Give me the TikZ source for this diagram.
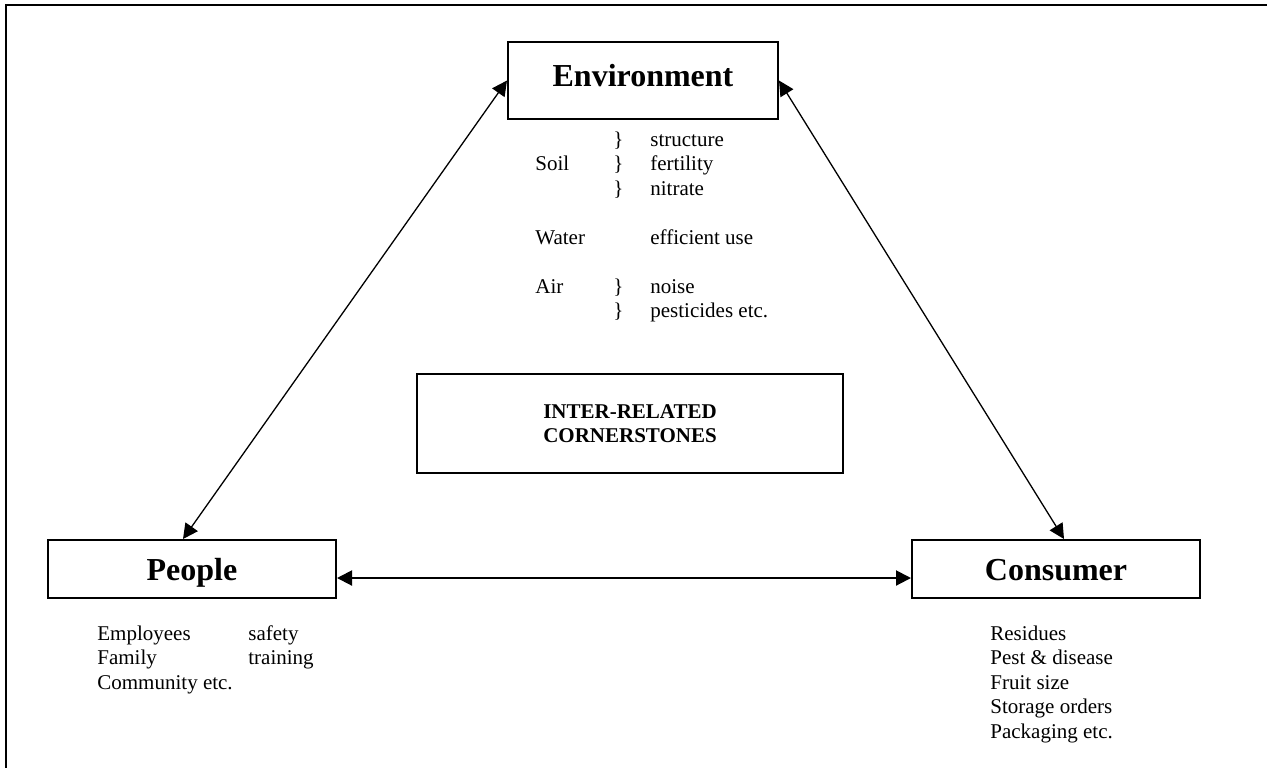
\documentclass[tikz,border=0pt]{standalone}
\usepackage{fontspec}
\setmainfont{Liberation Serif}
\usetikzlibrary{arrows.meta}

\begin{document}
\begin{tikzpicture}[x=0.5pt, y=-0.5pt,
    cornerbox/.style={draw, line width=1pt, inner sep=0pt, text height=11pt,
        font=\fontsize{16}{19}\selectfont\bfseries},
    listtext/.style={anchor=base west, inner sep=0pt, font=\fontsize{10.5}{12.25}\selectfont},
    link/.style={line width=0.65pt,
        {Triangle[length=7.5pt,width=7.5pt]}-{Triangle[length=7.5pt,width=7.5pt]}}]

\useasboundingbox (0,0) rectangle (1267,767);
\draw[line width=1pt] (6,780) |- (1280,5);

\node[cornerbox, minimum width=135pt, minimum height=38.5pt, text depth=5pt] (env) at (643,80.5) {Environment};
\node[cornerbox, minimum width=144pt, minimum height=29pt, text depth=0pt] (people) at (192,569) {People};
\node[cornerbox, minimum width=144pt, minimum height=29pt, text depth=0pt] (consumer) at (1056,569) {Consumer};
\node[draw, line width=0.8pt, minimum width=213pt, minimum height=49.5pt, align=center,
    font=\fontsize{10.5}{12.25}\selectfont\bfseries] (inter) at (630,423.5) {INTER-RELATED\\CORNERSTONES};

\foreach \rowno/\lab/\brace/\entry in {0//\}/structure, 1/Soil/\}/fertility, 2//\}/nitrate,
        4/Water//efficient use, 6/Air/\}/noise, 7//\}/pesticides etc.} {
    \pgfmathsetmacro\basey{146+24.5*\rowno}
    \node[listtext] (envlab\rowno) at (535,\basey) {\lab};
    \node[listtext] (envbrace\rowno) at (613,\basey) {\brace};
    \node[listtext] (enventry\rowno) at (650,\basey) {\entry};
}

\foreach \entry/\topic [count=\i from 0] in {Employees/safety, Family/training, Community etc./} {
    \pgfmathsetmacro\basey{640+24.5*\i}
    \node[listtext] (peopleentry\i) at (97,\basey) {\entry};
    \node[listtext] (peopletopic\i) at (248,\basey) {\topic};
}

\foreach \entry [count=\i from 0] in {Residues, Pest \& disease, Fruit size, Storage orders, Packaging etc.} {
    \pgfmathsetmacro\basey{640+24.5*\i}
    \node[listtext] (consumerentry\i) at (990,\basey) {\entry};
}

\draw[link] ([xshift=-4.5pt]people.north) -- (env.west);
\draw[link] (env.east) -- ([xshift=4pt]consumer.north);
\draw[link, line width=1pt] ([yshift=-4.5pt]people.east) -- ([yshift=-4.5pt]consumer.west);

\end{tikzpicture}
\end{document}
